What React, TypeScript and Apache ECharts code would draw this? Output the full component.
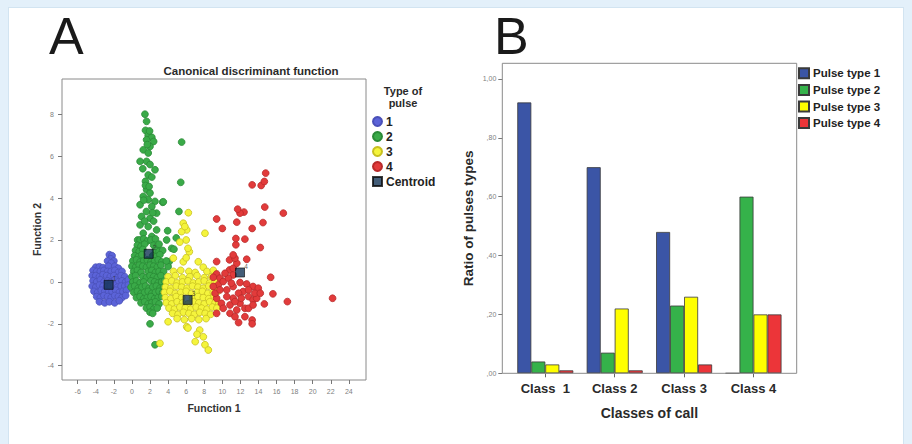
import React, { useEffect, useRef } from "react";
import * as echarts from "echarts";

const FONT = "'Liberation Sans', Arial, sans-serif";

// ---------- Panel A: canonical discriminant scores ----------
const pulse1Points: number[][] = [
  [-2.5, 1.3], [-2.2, 1.25], [-2.35, 1.1], [-2.7, 1.0], [-2.0, 1.0], [-2.3, 0.9],
  [-4.0, 0.7], [-3.6, 0.72], [-3.2, 0.68], [-2.6, 0.75], [-1.9, 0.75], [-1.5, 0.65],
  [-4.3, 0.55], [-3.9, 0.5], [-3.5, 0.5], [-3.1, 0.55], [-2.7, 0.5], [-2.3, 0.5], [-1.9, 0.55], [-1.5, 0.45], [-1.1, 0.5],
  [-4.4, 0.3], [-4.0, 0.3], [-3.6, 0.25], [-3.2, 0.35], [-2.8, 0.3], [-2.4, 0.25], [-2.0, 0.3], [-1.6, 0.2], [-1.2, 0.3], [-0.8, 0.25],
  [-4.3, 0.05], [-3.9, 0.0], [-3.5, 0.1], [-3.1, 0.0], [-2.7, 0.05], [-2.3, 0.0], [-1.9, 0.1], [-1.5, 0.0], [-1.1, 0.05], [-0.7, 0.0], [-0.4, 0.1],
  [-4.4, -0.2], [-4.0, -0.25], [-3.6, -0.15], [-3.2, -0.2], [-2.8, -0.25], [-2.4, -0.2], [-2.0, -0.15], [-1.6, -0.25], [-1.2, -0.2], [-0.8, -0.2], [-0.4, -0.15],
  [-4.2, -0.45], [-3.8, -0.5], [-3.4, -0.4], [-3.0, -0.45], [-2.6, -0.5], [-2.2, -0.45], [-1.8, -0.4], [-1.4, -0.5], [-1.0, -0.45], [-0.6, -0.4],
  [-3.9, -0.7], [-3.5, -0.75], [-3.1, -0.65], [-2.7, -0.7], [-2.3, -0.75], [-1.9, -0.65], [-1.5, -0.7], [-1.1, -0.75], [-0.7, -0.65],
  [-3.6, -0.95], [-3.0, -1.0], [-2.5, -0.95], [-1.9, -1.0], [-1.4, -0.9],
];

const pulse2Points: number[][] = [
  // tower
  [1.44, 8.0], [1.62, 7.66], [1.5, 7.23], [1.8, 7.0], [2.2, 6.9], [1.62, 6.78], [2.4, 6.7], [2.0, 6.46],
  [1.25, 6.3], [1.8, 6.15], [1.62, 5.75], [0.9, 5.75], [2.0, 5.6], [2.55, 5.35], [1.8, 5.1], [1.5, 4.8],
  [1.62, 4.4], [2.0, 4.24], [1.25, 4.08], [1.8, 3.92], [2.55, 3.84], [3.4, 3.8], [0.9, 3.68], [2.2, 3.6],
  [1.6, 3.36], [2.73, 3.28], [1.07, 3.12], [2.0, 3.04], [0.9, 2.72], [1.8, 2.64], [2.73, 2.48], [1.25, 2.32],
  [2.2, 2.17], [0.63, 2.0], [1.5, 4.6], [1.9, 4.55], [1.3, 3.9], [2.3, 3.3], [1.4, 2.9], [2.4, 2.9],
  [1.7, 6.55], [1.95, 7.2], [1.2, 5.4], [2.2, 5.0],
  // outliers
  [5.5, 6.67], [5.4, 4.75], [5.2, 3.36], [3.95, 2.44], [4.9, 2.1], [3.47, 3.82], [2.0, -2.0], [2.55, -3.0],
  [4.4, 1.6], [3.84, 2.0], [4.65, 1.56], [4.13, 0.97], [4.0, 0.73],
  // dense body
  [0.9, 2.0], [1.3, 2.05], [1.7, 1.95], [2.1, 2.0], [2.6, 2.05],
  [0.6, 1.75], [1.0, 1.7], [1.4, 1.8], [2.4, 1.75], [2.8, 1.7], [3.0, 1.8],
  [0.4, 1.5], [0.8, 1.45], [1.2, 1.55], [2.6, 1.5], [3.0, 1.45], [3.4, 1.5],
  [0.3, 1.25], [0.7, 1.2], [1.1, 1.3], [2.3, 1.25], [2.7, 1.2], [3.1, 1.3],
  [0.1, 1.0], [0.5, 1.05], [0.9, 0.95], [1.3, 1.0], [1.7, 1.05], [2.1, 0.95], [2.5, 1.0], [2.9, 1.05], [3.3, 0.95], [3.8, 1.0],
  [0.0, 0.75], [0.4, 0.7], [0.8, 0.8], [1.2, 0.75], [1.6, 0.7], [2.0, 0.8], [2.4, 0.75], [2.8, 0.7], [3.2, 0.8],
  [0.2, 0.5], [0.6, 0.55], [1.0, 0.45], [1.8, 0.5], [2.2, 0.55], [2.6, 0.45], [3.0, 0.5], [3.5, 0.5],
  [0.0, 0.25], [0.4, 0.3], [1.2, 0.25], [1.6, 0.2], [2.0, 0.3], [2.4, 0.25], [2.8, 0.2], [3.2, 0.3],
  [0.1, 0.0], [0.5, 0.05], [0.9, -0.05], [1.3, 0.0], [2.1, 0.05], [2.5, 0.0], [2.9, -0.05], [3.3, 0.0], [3.6, 0.05],
  [-0.1, -0.25], [0.3, -0.2], [0.7, -0.3], [1.1, -0.25], [1.5, -0.2], [1.9, -0.3], [2.3, -0.25], [2.7, -0.2], [3.1, -0.3], [3.5, -0.25],
  [0.2, -0.5], [0.6, -0.45], [1.0, -0.55], [1.4, -0.5], [1.8, -0.45], [2.2, -0.55], [2.6, -0.5], [3.0, -0.45], [3.4, -0.5],
  [0.5, -0.75], [0.9, -0.7], [1.3, -0.8], [1.7, -0.75], [2.1, -0.7], [2.5, -0.8], [2.9, -0.75], [3.3, -0.7],
  [1.0, -1.0], [1.4, -0.95], [1.8, -1.05], [2.2, -1.0], [2.6, -0.95], [3.0, -1.05],
  [1.6, -1.25], [2.0, -1.2], [2.4, -1.3], [2.8, -1.25],
  [2.0, -1.45], [2.3, -1.5],
];

const pulse3Points: number[][] = [
  // plume and outliers
  [6.24, 3.3], [5.68, 2.8], [6.06, 2.48], [8.08, 2.32], [5.5, 2.4], [6.35, 1.44], [5.68, 0.96], [7.34, 0.96],
  [7.89, 0.7], [4.58, 1.13], [5.85, 2.64], [6.0, 2.0], [6.2, 1.6], [6.0, 1.15], [5.3, 1.9],
  [6.06, -2.14], [7.5, -2.3], [7.9, -2.62], [7.0, -2.85], [8.08, -3.0], [8.45, -3.25], [3.1, -2.93], [4.0, -1.9],
  [7.2, -2.5], [6.2, -2.2],
  // dense body
  [4.6, 0.5], [5.4, 0.55], [6.3, 0.5], [7.0, 0.45], [8.3, 0.5], [9.0, 0.55],
  [4.0, 0.25], [4.8, 0.3], [5.6, 0.2], [6.4, 0.25], [7.2, 0.3], [8.0, 0.2], [8.8, 0.25], [9.3, 0.3],
  [3.8, 0.0], [4.4, 0.05], [5.0, -0.05], [5.6, 0.0], [6.2, 0.05], [6.8, -0.05], [7.4, 0.0], [8.0, 0.05], [8.6, -0.05], [9.2, 0.0],
  [3.7, -0.25], [4.3, -0.3], [4.9, -0.2], [5.5, -0.25], [6.1, -0.3], [6.7, -0.2], [7.3, -0.25], [7.9, -0.3], [8.5, -0.2], [9.1, -0.25],
  [3.6, -0.5], [4.2, -0.45], [4.8, -0.55], [5.4, -0.5], [6.0, -0.45], [6.6, -0.55], [7.2, -0.5], [7.8, -0.45], [8.4, -0.55], [9.0, -0.5], [9.5, -0.45],
  [3.7, -0.75], [4.3, -0.8], [4.9, -0.7], [5.5, -0.75], [6.7, -0.8], [7.3, -0.7], [7.9, -0.75], [8.5, -0.8], [9.1, -0.7],
  [3.8, -1.0], [4.4, -1.05], [5.0, -0.95], [5.6, -1.0], [6.2, -1.05], [6.8, -0.95], [7.4, -1.0], [8.0, -1.05], [8.6, -0.95], [9.2, -1.0], [9.6, -1.05],
  [4.1, -1.25], [4.7, -1.3], [5.3, -1.2], [5.9, -1.25], [6.5, -1.3], [7.1, -1.2], [7.7, -1.25], [8.3, -1.3], [8.9, -1.2], [9.4, -1.25],
  [4.5, -1.5], [5.1, -1.55], [5.7, -1.45], [6.3, -1.5], [6.9, -1.55], [7.5, -1.45], [8.1, -1.5], [8.7, -1.55],
  [5.0, -1.75], [5.8, -1.8], [6.6, -1.75], [7.4, -1.8], [8.2, -1.75],
];

const pulse4Points: number[][] = [
  [9.37, 0.38], [9.0, 0.22], [9.74, 0.18], [9.56, -0.14], [10.1, 0.02], [10.8, 0.57], [11.2, 0.33], [10.66, 0.18],
  [11.2, -0.22], [10.5, -0.38], [11.96, -0.03], [12.7, -0.1], [12.3, -0.46], [13.4, -0.22], [13.98, -0.3], [12.9, -0.7],
  [13.4, -0.86], [9.37, -0.78], [9.9, -1.02], [11.2, -0.78], [10.85, -1.1], [11.96, -1.02], [12.5, -1.26], [11.6, -1.34],
  [10.85, -1.5], [11.4, -1.66], [11.8, -1.94], [12.5, -1.66], [13.3, -1.82], [13.3, -2.0], [12.9, -1.26], [13.8, -0.78],
  [13.6, -0.54], [9.37, -1.5], [9.0, -0.22], [9.2, -0.54], [10.3, 0.41], [11.2, 0.65], [11.6, 0.89], [9.37, 0.97],
  [10.8, 1.05], [11.4, 1.13], [12.7, 1.08], [11.2, 1.29], [14.2, 1.64], [11.5, 1.77], [12.5, 2.04], [11.5, 2.07],
  [13.3, 2.55], [11.6, 2.85], [12.4, 3.33], [11.96, 3.28], [11.7, 3.47], [10.0, 2.55], [9.37, 3.0], [14.5, 2.83],
  [14.7, 3.57], [16.75, 3.28], [13.3, 4.63], [14.3, 4.6], [14.65, 4.79], [14.8, 5.19], [15.35, 0.22], [15.6, -0.57],
  [14.65, -1.05], [17.2, -0.94], [22.2, -0.78], [11.0, -0.06], [11.8, -0.54], [10.5, -0.7], [13.4, -1.1], [12.1, -0.78],
  [10.1, -1.26], [12.9, -0.38], [14.2, -0.54], [9.74, -0.38], [11.4, -0.94],
];

const centroidPoints: number[][] = [[-2.58, -0.14], [1.85, 1.34], [6.16, -0.86], [11.96, 0.45]];
const centroidLabels = ["1", "2", "3", "4"];
const groupNames = ["1", "2", "3", "4"];
const groupColors = ["#5b63d8", "#3aaa48", "#f4f43c", "#e23b3b"];
const groupBorders = ["#4a50b8", "#2a8a36", "#c8c020", "#b82a2a"];
const xTicksA = [-6, -4, -2, 0, 2, 4, 6, 8, 10, 12, 14, 16, 18, 20, 22, 24];
const yTicksA = [-4, -2, 0, 2, 4, 6, 8];

// ---------- Panel B: ratio of pulse types per call class ----------
const classes = ["Class  1", "Class 2", "Class 3", "Class 4"];
const pulseType1 = [0.92, 0.7, 0.48, 0.0];
const pulseType2 = [0.04, 0.07, 0.23, 0.6];
const pulseType3 = [0.03, 0.22, 0.26, 0.2];
const pulseType4 = [0.01, 0.01, 0.03, 0.2];
const pulseNames = ["Pulse type 1", "Pulse type 2", "Pulse type 3", "Pulse type 4"];
const barColors = ["#3b55a6", "#35b24a", "#ffff00", "#ec3539"];
const yTicksB = [0, 0.2, 0.4, 0.6, 0.8, 1.0];
const yTickLabelsB = [",00", ",20", ",40", ",60", ",80", "1,00"];

export default function App() {
  const ref = useRef<HTMLDivElement>(null);

  useEffect(() => {
    if (!ref.current) return;
    const chart = echarts.init(ref.current, null, { renderer: "svg" });
    const pointSets = [pulse1Points, pulse2Points, pulse3Points, pulse4Points];
    const barSets = [pulseType1, pulseType2, pulseType3, pulseType4];

    const tickLabelStyle = { fontSize: 7, color: "#808080", fontFamily: FONT };

    const option: any = {
      animation: false,
      textStyle: { fontFamily: FONT },
      grid: [
        { left: 62, top: 79, width: 304, height: 301, show: true, borderColor: "#8a8a8a", borderWidth: 1, backgroundColor: "#ffffff" },
        { left: 510.6, top: 63.3, width: 277.6, height: 310 },
      ],
      xAxis: [
        {
          gridIndex: 0, type: "value", min: -7.74, max: 25.9,
          axisLine: { show: false, onZero: false },
          axisTick: { show: true, customValues: xTicksA, length: 4, lineStyle: { color: "#777" } },
          axisLabel: { customValues: xTicksA, margin: 8, ...tickLabelStyle },
          splitLine: { show: false },
          name: "Function 1", nameLocation: "middle", nameGap: 22,
          nameTextStyle: { fontWeight: "bold", fontSize: 10.5, color: "#333", fontFamily: FONT },
        },
        {
          gridIndex: 1, type: "category", data: classes,
          axisLine: { show: false, onZero: false },
          axisTick: { show: true, alignWithLabel: true, length: 4, lineStyle: { color: "#666" } },
          axisLabel: { margin: 9, fontSize: 13, fontWeight: "bold", color: "#2a2a2a", fontFamily: FONT },
          name: "Classes of call", nameLocation: "middle", nameGap: 33,
          nameTextStyle: { fontWeight: "bold", fontSize: 14, color: "#2a2a2a", fontFamily: FONT },
        },
      ],
      yAxis: [
        {
          gridIndex: 0, type: "value", min: -4.68, max: 9.68,
          axisLine: { show: false, onZero: false },
          axisTick: { show: true, customValues: yTicksA, length: 4, lineStyle: { color: "#777" } },
          axisLabel: { customValues: yTicksA, margin: 8, ...tickLabelStyle },
          splitLine: { show: false },
          name: "Function 2", nameLocation: "middle", nameGap: 20,
          nameTextStyle: { fontWeight: "bold", fontSize: 10.5, color: "#333", fontFamily: FONT },
        },
        {
          gridIndex: 1, type: "value", min: 0, max: 1.053, offset: 8.3,
          axisLine: { show: false, onZero: false },
          axisTick: { show: true, customValues: yTicksB, length: 4, lineStyle: { color: "#777" } },
          axisLabel: {
            customValues: yTicksB, margin: 6, ...tickLabelStyle,
            formatter: (v: number) => {
              const i = yTicksB.findIndex((t) => Math.abs(t - v) < 1e-6);
              return i >= 0 ? yTickLabelsB[i] : "";
            },
          },
          splitLine: { show: false },
          name: "Ratio of pulses types", nameLocation: "middle", nameGap: 27,
          nameTextStyle: { fontWeight: "bold", fontSize: 13.5, color: "#2a2a2a", fontFamily: FONT },
        },
      ],
      legend: [
        {
          orient: "vertical", left: 372, top: 115.5, padding: 0, itemWidth: 9, itemHeight: 9, itemGap: 3,
          selectedMode: false,
          textStyle: { fontSize: 12, fontWeight: "bold", color: "#222", lineHeight: 11, fontFamily: FONT, padding: [0, 0, 0, -1] },
          data: [
            { name: "1", icon: "circle" }, { name: "2", icon: "circle" }, { name: "3", icon: "circle" },
            { name: "4", icon: "circle" }, { name: "Centroid", icon: "rect" },
          ],
        },
        {
          orient: "vertical", left: 798, top: 67.3, padding: 0, itemWidth: 10, itemHeight: 10, itemGap: 4.6,
          selectedMode: false,
          textStyle: { fontSize: 11.5, fontWeight: "bold", color: "#222", lineHeight: 10, fontFamily: FONT, padding: [0, 0, 0, -1] },
          data: pulseNames.map((n) => ({ name: n, icon: "rect" })),
        },
      ],
      graphic: [
        { type: "text", x: 49, y: 35.5, style: { text: "A", font: `52px ${FONT}`, fill: "#1a1a1a", verticalAlign: "middle", align: "left" } },
        { type: "text", x: 494, y: 36, style: { text: "B", font: `52px ${FONT}`, fill: "#1a1a1a", verticalAlign: "middle", align: "left" } },
        { type: "text", x: 251, y: 71, style: { text: "Canonical discriminant function", font: `bold 11.5px ${FONT}`, fill: "#2a2a2a", align: "center", verticalAlign: "middle" } },
        { type: "text", x: 403, y: 91, style: { text: "Type of", font: `bold 11px ${FONT}`, fill: "#2a2a2a", align: "center", verticalAlign: "middle" } },
        { type: "text", x: 403, y: 102.7, style: { text: "pulse", font: `bold 11px ${FONT}`, fill: "#2a2a2a", align: "center", verticalAlign: "middle" } },
        { type: "rect", shape: { x: 502.3, y: 63.3, width: 294.4, height: 310 }, style: { fill: "none", stroke: "#8a8a8a", lineWidth: 1 }, z: 10 },
      ],
      series: [
        ...pointSets.map((pts, i) => ({
          type: "scatter", name: groupNames[i], xAxisIndex: 0, yAxisIndex: 0,
          data: pts, symbol: "circle", symbolSize: 6.8,
          itemStyle: { color: groupColors[i], borderColor: groupBorders[i], borderWidth: 0.8, opacity: 1 },
        })),
        {
          type: "scatter", name: "Centroid", xAxisIndex: 0, yAxisIndex: 0,
          data: centroidPoints, symbol: "rect", symbolSize: 9, z: 5,
          itemStyle: { color: "#143456", borderColor: "#0a0a0a", borderWidth: 0.8 },
          label: {
            show: true, position: [9, -5], fontSize: 6.5, color: "#333",
            formatter: (p: any) => centroidLabels[p.dataIndex],
          },
        },
        ...barSets.map((vals, i) => ({
          type: "bar", name: pulseNames[i], xAxisIndex: 1, yAxisIndex: 1,
          data: vals, barWidth: 14, barGap: "0%",
          itemStyle: { color: barColors[i], borderColor: "#3a3a3a", borderWidth: 0.8 },
        })),
      ],
    };

    chart.setOption(option);
    return () => chart.dispose();
  }, []);

  return (
    <div style={{ position: "absolute", left: 0, top: 0, width: 912, height: 444, background: "#e3f0fa", overflow: "hidden" }}>
      <div style={{ position: "absolute", left: 8, top: 7, width: 896, height: 440, background: "#ffffff", border: "1px solid #d2e4f1", boxSizing: "border-box" }} />
      <div ref={ref} style={{ position: "absolute", left: 0, top: 0, width: 912, height: 444 }} />
    </div>
  );
}
